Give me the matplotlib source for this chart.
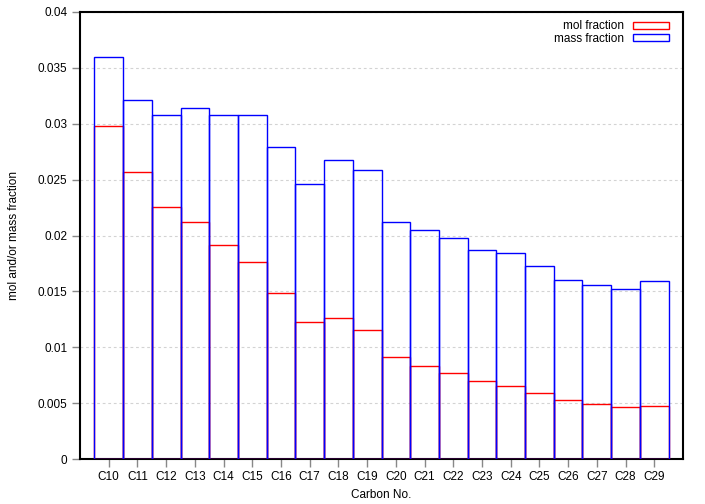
import matplotlib
matplotlib.use("Agg")
import matplotlib.pyplot as plt
from matplotlib.patches import Patch

categories = ["C10", "C11", "C12", "C13", "C14", "C15", "C16", "C17", "C18", "C19",
              "C20", "C21", "C22", "C23", "C24", "C25", "C26", "C27", "C28", "C29"]
mol_fraction = [0.0298, 0.0257, 0.02255, 0.0212, 0.01915, 0.01763, 0.01485, 0.01226, 0.01262, 0.01154,
                0.00913, 0.00832, 0.0077, 0.00698, 0.00653, 0.0059, 0.00528, 0.00492, 0.00465, 0.0047]
mass_fraction = [0.0360, 0.0321, 0.0308, 0.0314, 0.0308, 0.0308, 0.0279, 0.0246, 0.0268, 0.0259,
                 0.0212, 0.0205, 0.0198, 0.0187, 0.0184, 0.0173, 0.0160, 0.0156, 0.0152, 0.0159]
yticks = [0, 0.005, 0.01, 0.015, 0.02, 0.025, 0.03, 0.035, 0.04]
ytick_labels = ["0", "0.005", "0.01", "0.015", "0.02", "0.025", "0.03", "0.035", "0.04"]

plt.rcParams['font.family'] = ['Liberation Sans', 'DejaVu Sans']
fig = plt.figure(figsize=(7.05, 5.04), dpi=100)
ax = fig.add_axes([80/705, 1-459/504, (683-80)/705, (459-12)/504])

x = list(range(len(categories)))
ax.bar(x, mol_fraction, width=1.0, fill=False, edgecolor="#ff0000", linewidth=1.0, zorder=3)
ax.bar(x, mass_fraction, width=1.0, fill=False, edgecolor="#0000ff", linewidth=1.0, zorder=3)

ax.set_xlim(-1, 20)
ax.set_ylim(0, 0.04)
ax.set_xticks(x)
ax.set_xticklabels(categories)
ax.set_yticks(yticks)
ax.set_yticklabels(ytick_labels)
ax.tick_params(axis='both', direction='out', length=6, width=1, color='#888888',
               labelsize=8.5, pad=3)
ax.yaxis.grid(True, linestyle=(0, (2.5, 2.5)), color='#d3d3d3', linewidth=0.8, zorder=0)
ax.set_axisbelow(True)
for s in ax.spines.values():
    s.set_linewidth(1.5)
    s.set_color('black')

ax.set_xlabel("Carbon No.", fontsize=8.5, labelpad=4)
ax.set_ylabel("mol and/or mass fraction", fontsize=8.5, labelpad=13)

handles = [Patch(facecolor='none', edgecolor='#ff0000', label='mol fraction'),
           Patch(facecolor='none', edgecolor='#0000ff', label='mass fraction')]
ax.legend(handles=handles, loc='upper right', bbox_to_anchor=(0.988, 0.997), frameon=False,
          markerfirst=False, fontsize=8.5, handlelength=3.0, handleheight=0.55,
          labelspacing=0.05, handletextpad=0.8, borderaxespad=0.2)

fig.savefig("out.png", dpi=100)
